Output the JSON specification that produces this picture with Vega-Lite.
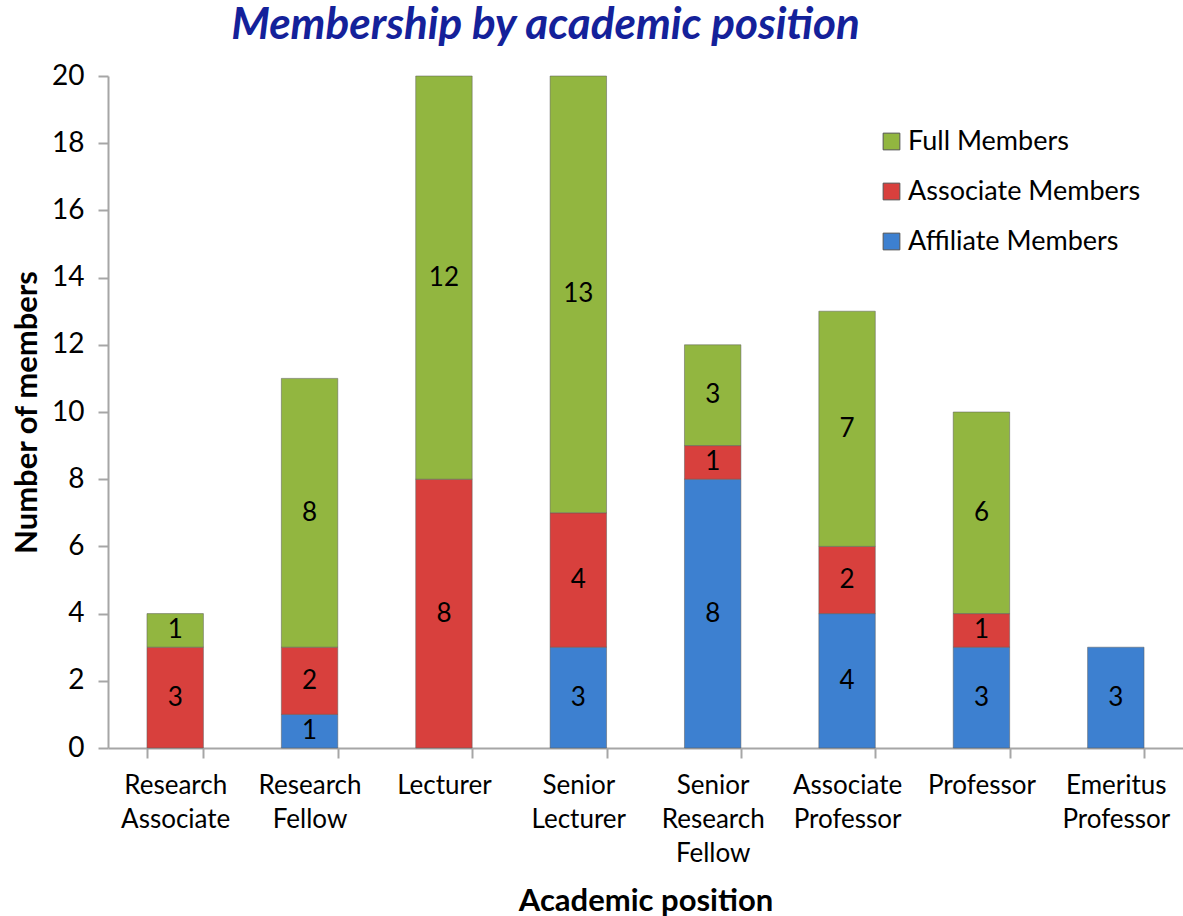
{
  "$schema": "https://vega.github.io/schema/vega-lite/v6.json",
  "width": 1075,
  "height": 672,
  "autosize": {"type": "none"},
  "padding": {"left": 108, "top": 76, "right": 0, "bottom": 168},
  "background": "white",
  "config": {"view": {"stroke": null}, "font": "Lato"},
  "title": {
    "text": "Membership by academic position",
    "font": "Lato",
    "fontSize": 44,
    "fontWeight": "bold",
    "fontStyle": "italic",
    "color": "#14219A",
    "anchor": "middle",
    "dx": -100,
    "offset": 14
  },
  "data": {
    "values": [
      {"position": "Research Associate", "type": "Affiliate Members", "ord": 1, "count": 0},
      {"position": "Research Associate", "type": "Associate Members", "ord": 2, "count": 3},
      {"position": "Research Associate", "type": "Full Members", "ord": 3, "count": 1},
      {"position": "Research Fellow", "type": "Affiliate Members", "ord": 1, "count": 1},
      {"position": "Research Fellow", "type": "Associate Members", "ord": 2, "count": 2},
      {"position": "Research Fellow", "type": "Full Members", "ord": 3, "count": 8},
      {"position": "Lecturer", "type": "Affiliate Members", "ord": 1, "count": 0},
      {"position": "Lecturer", "type": "Associate Members", "ord": 2, "count": 8},
      {"position": "Lecturer", "type": "Full Members", "ord": 3, "count": 12},
      {"position": "Senior Lecturer", "type": "Affiliate Members", "ord": 1, "count": 3},
      {"position": "Senior Lecturer", "type": "Associate Members", "ord": 2, "count": 4},
      {"position": "Senior Lecturer", "type": "Full Members", "ord": 3, "count": 13},
      {"position": "Senior Research Fellow", "type": "Affiliate Members", "ord": 1, "count": 8},
      {"position": "Senior Research Fellow", "type": "Associate Members", "ord": 2, "count": 1},
      {"position": "Senior Research Fellow", "type": "Full Members", "ord": 3, "count": 3},
      {"position": "Associate Professor", "type": "Affiliate Members", "ord": 1, "count": 4},
      {"position": "Associate Professor", "type": "Associate Members", "ord": 2, "count": 2},
      {"position": "Associate Professor", "type": "Full Members", "ord": 3, "count": 7},
      {"position": "Professor", "type": "Affiliate Members", "ord": 1, "count": 3},
      {"position": "Professor", "type": "Associate Members", "ord": 2, "count": 1},
      {"position": "Professor", "type": "Full Members", "ord": 3, "count": 6},
      {"position": "Emeritus Professor", "type": "Affiliate Members", "ord": 1, "count": 3},
      {"position": "Emeritus Professor", "type": "Associate Members", "ord": 2, "count": 0},
      {"position": "Emeritus Professor", "type": "Full Members", "ord": 3, "count": 0}
    ]
  },
  "transform": [
    {"filter": "datum.count > 0"},
    {"stack": "count", "groupby": ["position"], "sort": [{"field": "ord", "order": "ascending"}], "as": ["y0", "y1"]},
    {"calculate": "(datum.y0 + datum.y1) / 2", "as": "ymid"}
  ],
  "encoding": {
    "x": {
      "field": "position",
      "type": "nominal",
      "sort": ["Research Associate", "Research Fellow", "Lecturer", "Senior Lecturer", "Senior Research Fellow", "Associate Professor", "Professor", "Emeritus Professor"],
      "scale": {"paddingInner": 0.58, "paddingOuter": 0.29},
      "axis": {
        "title": "Academic position",
        "titleFont": "Lato",
        "titleFontSize": 31,
        "titleFontWeight": "bold",
        "titleColor": "#000000",
        "titlePadding": 20,
        "labelAngle": 0,
        "labelExpr": "split(datum.label, ' ')",
        "labelFont": "Lato",
        "labelFontSize": 26,
        "labelColor": "#000000",
        "labelLineHeight": 34,
        "labelPadding": 14,
        "labelBaseline": "top",
        "labelLimit": 0,
        "domainColor": "#A6A6A6",
        "domainWidth": 2,
        "tickColor": "#A6A6A6",
        "tickWidth": 2,
        "tickSize": 10,
        "tickBand": "extent"
      }
    }
  },
  "layer": [
    {
      "mark": {"type": "bar", "stroke": "#5a5a5a", "strokeWidth": 1, "strokeOpacity": 0.5},
      "encoding": {
        "y": {
          "field": "y0",
          "type": "quantitative",
          "scale": {"domain": [0, 20]},
          "axis": {
            "title": "Number of members",
            "titleFont": "Lato",
            "titleFontSize": 31,
            "titleFontWeight": "bold",
            "titleColor": "#000000",
            "titlePadding": 8,
            "values": [0, 2, 4, 6, 8, 10, 12, 14, 16, 18, 20],
            "labelFont": "Lato",
            "labelFontSize": 28,
            "labelColor": "#000000",
            "labelPadding": 14,
            "domainColor": "#A6A6A6",
            "domainWidth": 2,
            "tickColor": "#A6A6A6",
            "tickWidth": 2,
            "tickSize": 10,
            "grid": false
          }
        },
        "y2": {"field": "y1"},
        "color": {
          "field": "type",
          "type": "nominal",
          "scale": {
            "domain": ["Full Members", "Associate Members", "Affiliate Members"],
            "range": ["#92B640", "#D8403D", "#3D80D0"]
          },
          "legend": {
            "title": null,
            "orient": "none",
            "legendX": 770,
            "legendY": 52,
            "symbolType": "square",
            "symbolSize": 280,
            "symbolStrokeColor": "#555555",
            "symbolStrokeWidth": 1,
            "labelFont": "Lato",
            "labelFontSize": 27,
            "labelColor": "#000000",
            "labelOffset": 3,
            "labelLimit": 0,
            "rowPadding": 22
          }
        }
      }
    },
    {
      "mark": {"type": "text", "font": "Lato", "fontSize": 26, "color": "#000000", "baseline": "middle"},
      "encoding": {
        "y": {"field": "ymid", "type": "quantitative"},
        "text": {"field": "count", "type": "quantitative"}
      }
    }
  ]
}
